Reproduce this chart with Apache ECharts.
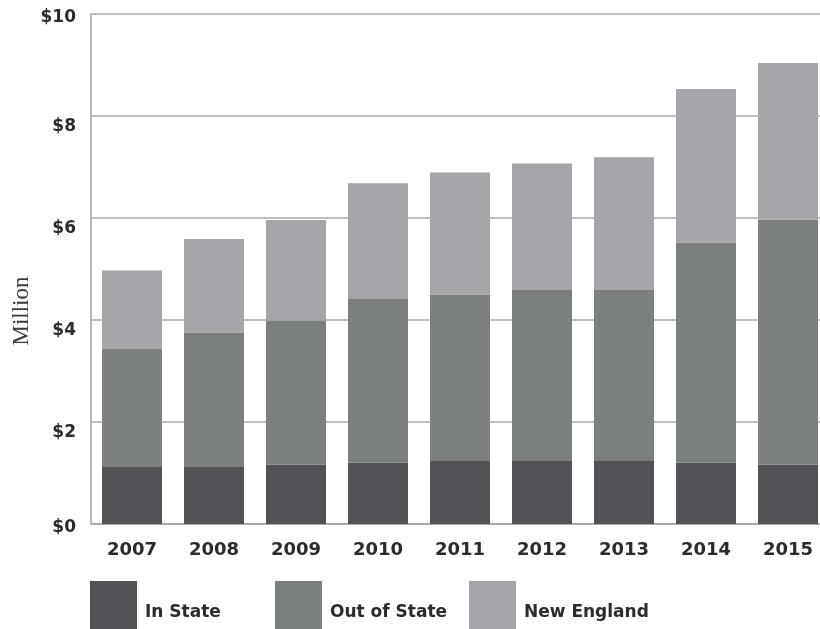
<!DOCTYPE html>
<html>
<head>
<meta charset="utf-8">
<style>
  html, body { margin: 0; padding: 0; background: #ffffff; overflow: hidden; }
  #chart { width: 830px; height: 629px; }
</style>
<script src="https://cdn.jsdelivr.net/npm/echarts@6/dist/echarts.min.js"></script>
</head>
<body>
<div id="chart"></div>
<script>
// Funding by source, in millions of dollars
const years = ['2007', '2008', '2009', '2010', '2011', '2012', '2013', '2014', '2015'];
const inState = [1.12, 1.12, 1.16, 1.20, 1.235, 1.235, 1.235, 1.20, 1.16];
const outOfState = [2.31, 2.63, 2.83, 3.21, 3.265, 3.355, 3.355, 4.32, 4.81];
const newEngland = [1.54, 1.84, 1.97, 2.27, 2.39, 2.48, 2.60, 3.01, 3.07];
const yTicks = [0, 2, 4, 6, 8, 10];

const seriesNames = ['In State', 'Out of State', 'New England'];
const colors = ['#535256', '#7b807f', '#a6a5a9'];
const textColor = '#2b2b2e';
const font = 'DejaVu Sans';

const chart = echarts.init(document.getElementById('chart'));

function legendFor(name, left) {
  return {
    data: [name],
    left: left,
    top: 581,
    orient: 'horizontal',
    icon: 'rect',
    itemWidth: 47,
    itemHeight: 64,
    itemGap: 0,
    padding: 0,
    selectedMode: false,
    textStyle: {
      fontFamily: font,
      fontWeight: 'bold',
      fontSize: 17,
      color: textColor,
      padding: [0, 0, 0, 3]
    }
  };
}

const tickLabelStyle = {
  fontFamily: font,
  fontWeight: 'bold',
  fontSize: 17,
  color: textColor
};

chart.setOption({
  animation: false,
  color: colors,
  legend: [
    legendFor(seriesNames[0], 90),
    legendFor(seriesNames[1], 275),
    legendFor(seriesNames[2], 469)
  ],
  grid: {
    left: 91,
    top: 14,
    width: 738,
    height: 510
  },
  xAxis: {
    type: 'category',
    data: years,
    axisTick: { show: false },
    axisLine: { lineStyle: { color: '#a3a3a3', width: 1.5 } },
    axisLabel: {
      margin: 17,
      fontFamily: font,
      fontWeight: 'bold',
      fontSize: 18,
      color: textColor
    }
  },
  yAxis: {
    type: 'value',
    min: 0,
    max: 10,
    interval: 2,
    axisLine: { show: true, lineStyle: { color: '#a3a3a3', width: 1.5 } },
    axisTick: { show: false },
    splitLine: { lineStyle: { color: '#a9a9a9', width: 1.5 } },
    axisLabel: {
      margin: 15,
      customValues: yTicks,
      // the end labels sit close to their lines, the inner ones hang lower
      formatter: v => (v === 0 || v === 10 ? '{edge|$' + v + '}' : '{inner|$' + v + '}'),
      rich: {
        edge: Object.assign({ padding: [8, 0, 0, 0] }, tickLabelStyle),
        inner: Object.assign({ padding: [22, 0, 0, 0] }, tickLabelStyle)
      }
    }
  },
  graphic: [{
    type: 'text',
    x: 22,
    y: 311,
    rotation: Math.PI / 2,
    style: {
      text: 'Million',
      fontFamily: 'Liberation Serif',
      fontSize: 23,
      fill: '#3a3a3c',
      align: 'center',
      verticalAlign: 'middle'
    }
  }],
  series: [
    { name: seriesNames[0], type: 'bar', stack: 'total', data: inState, barWidth: 60 },
    { name: seriesNames[1], type: 'bar', stack: 'total', data: outOfState, barWidth: 60 },
    { name: seriesNames[2], type: 'bar', stack: 'total', data: newEngland, barWidth: 60 }
  ]
});
</script>
</body>
</html>
